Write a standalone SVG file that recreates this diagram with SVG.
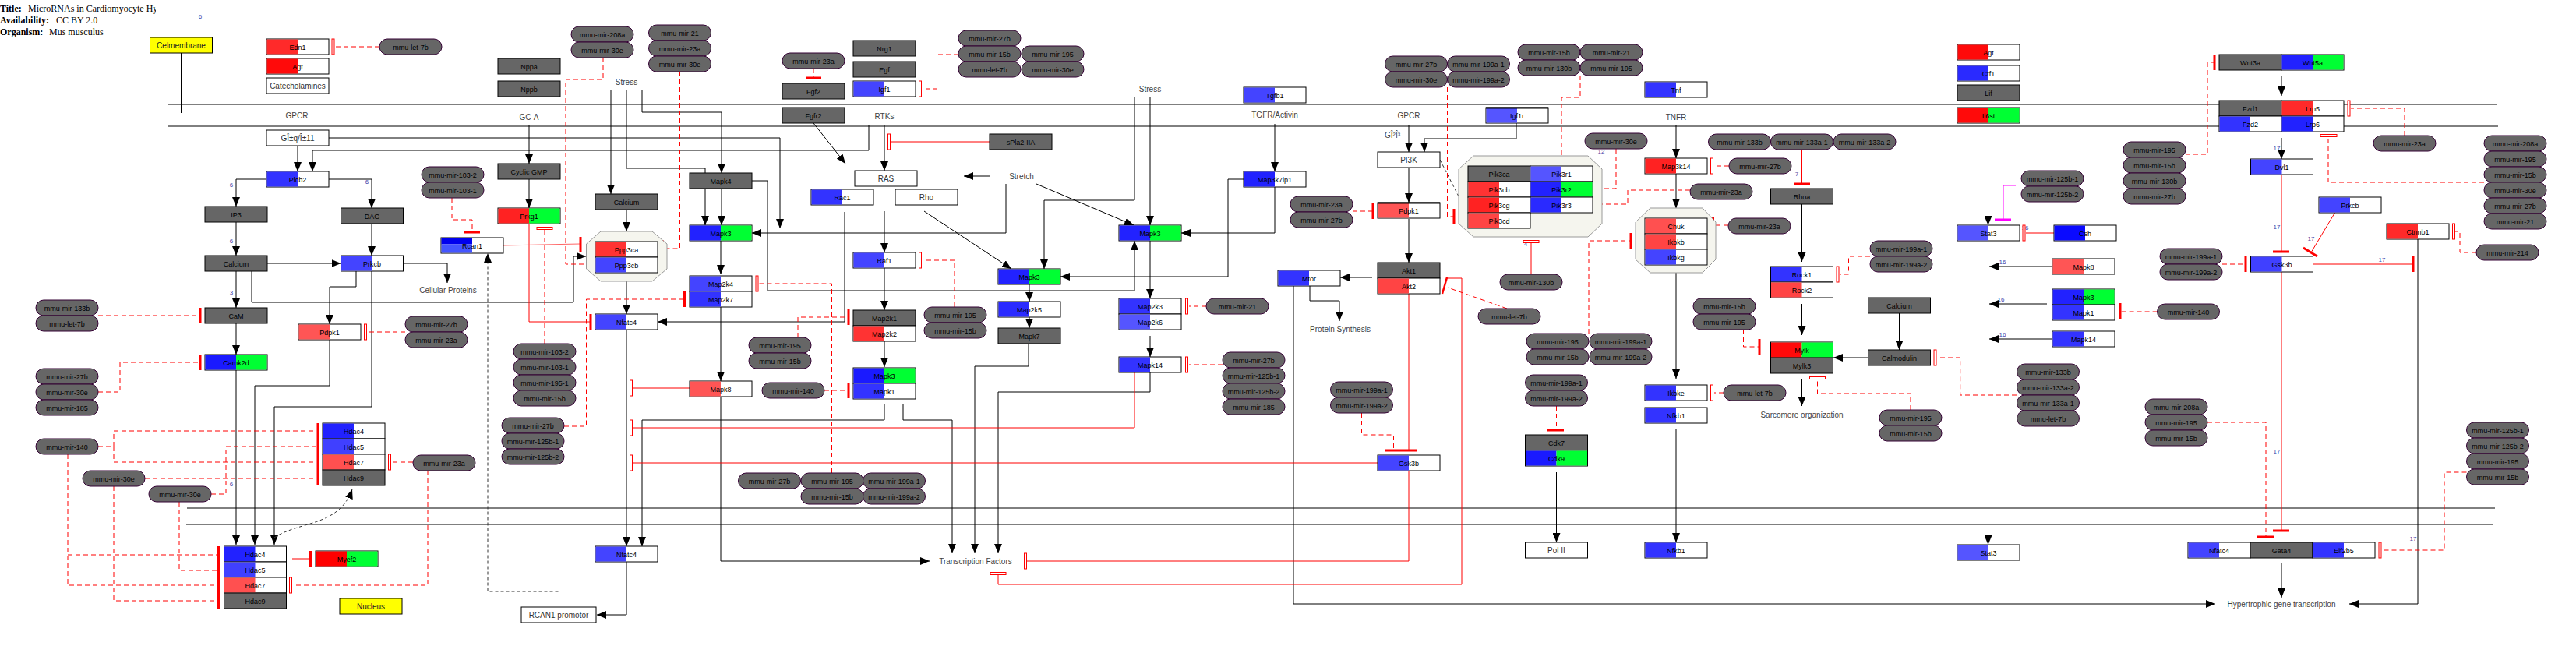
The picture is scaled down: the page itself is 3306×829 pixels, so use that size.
<svg xmlns="http://www.w3.org/2000/svg" width="3306" height="829" viewBox="0 0 3306 829">
<style>
.w{fill:#fff;stroke:#000}
.g{fill:#666;stroke:#000}
.p{fill:#666;stroke:#303;rx:10px;ry:10px}
.y{fill:#ff0;stroke:#000}
.cx{fill:#f5f5ee;stroke:#999}
.t{font:9px "Liberation Sans",Arial,sans-serif;text-anchor:middle;fill:#000}
.t2{font:10px "Liberation Sans",Arial,sans-serif;text-anchor:middle;fill:#333}
.l{font:10px "Liberation Sans",Arial,sans-serif;text-anchor:middle;fill:#444}
.n{font:8px "Liberation Sans",Arial,sans-serif;text-anchor:middle;fill:#44a}
.hd{font:12px "Liberation Serif","Times New Roman",serif;fill:#000}
.hd tspan.b{font-weight:bold}
.c{fill:none;stroke:#000}
.cd{fill:none;stroke:#333;stroke-dasharray:4,3}
.r{fill:none;stroke:#f00}
.rd{fill:none;stroke:#f00;stroke-dasharray:6,4}
.tb{fill:#f00}
.to{fill:#fff;stroke:#f00}
.mem{stroke:#000;fill:none}
</style>
<defs>
<marker id="a" viewBox="0 0 12 10" refX="12" refY="5" markerWidth="12" markerHeight="10" markerUnits="userSpaceOnUse" orient="auto"><path d="M0,0L12,5L0,10z" fill="#000"/></marker>
<clipPath id="tc"><rect x="0" y="0" width="200" height="50"/></clipPath>
</defs>
<rect width="3306" height="829" fill="#fff"/>

<g id="title" clip-path="url(#tc)">
<text class="hd" x="0" y="15"><tspan class="b">Title:</tspan><tspan x="36">MicroRNAs in Cardiomyocyte Hypertrophy</tspan></text>
<text class="hd" x="0" y="30"><tspan class="b">Availability:</tspan><tspan x="72">CC BY 2.0</tspan></text>
<text class="hd" x="0" y="45"><tspan class="b">Organism:</tspan><tspan x="63">Mus musculus</tspan></text>
</g>

<g id="membranes">
<path class="mem" d="M215,134H3205M215,162H3206M240,652H3202M239,673H3200"/>
</g>

<g id="labels">
<text class="l" x="381" y="151.5">GPCR</text>
<text class="l" x="679" y="153.5">GC-A</text>
<text class="l" x="804" y="108.5">Stress</text>
<text class="l" x="1135" y="152.5">RTKs</text>
<text class="l" x="1311" y="229.5">Stretch</text>
<text class="l" x="1476" y="117.5">Stress</text>
<text class="l" x="1636" y="150.5">TGFR/Activin</text>
<text class="l" x="1808" y="151.5">GPCR</text>
<text class="l" x="1787" y="176.5">GÎ²Î³</text>
<text class="l" x="2151" y="153.5">TNFR</text>
<text class="l" x="575" y="375.5">Cellular Proteins</text>
<text class="l" x="1720" y="425.5">Protein Synthesis</text>
<text class="l" x="2312.5" y="535.5">Sarcomere organization</text>
<text class="l" x="1252" y="723.5">Transcription Factors</text>
<text class="l" x="2928" y="778.5">Hypertrophic gene transcription</text>
<text class="n" x="257" y="23.5">6</text>
<text class="n" x="297" y="239.5">6</text>
<text class="n" x="471" y="235.5">6</text>
<text class="n" x="297" y="311.5">6</text>
<text class="n" x="297" y="377.5">3</text>
<text class="n" x="297" y="623.5">6</text>
<text class="n" x="2055" y="196.5">12</text>
<text class="n" x="1958" y="316">4</text>
<text class="n" x="2306" y="225.5">7</text>
<text class="n" x="2599" y="294.5">16</text>
<text class="n" x="2570" y="338.5">16</text>
<text class="n" x="2568" y="386.5">16</text>
<text class="n" x="2570" y="431.5">16</text>
<text class="n" x="2922" y="192.5">17</text>
<text class="n" x="2922" y="293.5">17</text>
<text class="n" x="2966" y="308.5">17</text>
<text class="n" x="3057" y="335.5">17</text>
<text class="n" x="2922" y="581.5">17</text>
<text class="n" x="3097" y="693.5">17</text>
</g>

<g id="connectors">
<path class="c" d="M232.5,68V145"/>
<path class="c" d="M382,187V220" marker-end="url(#a)"/>
<path class="c" d="M422,177H1001V293" marker-end="url(#a)"/>
<path class="c" d="M1115,160V193H401V220" marker-end="url(#a)"/>
<path class="c" d="M342,230H303V265" marker-end="url(#a)"/>
<path class="c" d="M422,230H477V267" marker-end="url(#a)"/>
<path class="c" d="M303,285V328" marker-end="url(#a)"/>
<path class="c" d="M477,287V328" marker-end="url(#a)"/>
<path class="c" d="M343,338H437.5" marker-end="url(#a)"/>
<path class="c" d="M517.5,338H574V363" marker-end="url(#a)"/>
<path class="c" d="M303,348V395" marker-end="url(#a)"/>
<path class="c" d="M323,348V388H736V329H752" marker-end="url(#a)"/>
<path class="c" d="M457,348V368H423V416" marker-end="url(#a)"/>
<path class="c" d="M477,348V522H352V699" marker-end="url(#a)"/>
<path class="c" d="M303,415V455" marker-end="url(#a)"/>
<path class="c" d="M303,475V699" marker-end="url(#a)"/>
<path class="c" d="M423,436V495H327V699" marker-end="url(#a)"/>
<path class="cd" d="M352,690C385,668 435,676 452,628" marker-end="url(#a)"/>
<path class="c" d="M679,160V210" marker-end="url(#a)"/>
<path class="c" d="M679,230V267" marker-end="url(#a)"/>
<path class="c" d="M784,116V249" marker-end="url(#a)"/>
<path class="c" d="M804,116V216H905V222"/>
<path class="c" d="M824,116V144H926V222" marker-end="url(#a)"/>
<path class="c" d="M804,269V297" marker-end="url(#a)"/>
<path class="c" d="M804,361V403" marker-end="url(#a)"/>
<path class="c" d="M905,242V289" marker-end="url(#a)"/>
<path class="c" d="M926,242V289" marker-end="url(#a)"/>
<path class="c" d="M965,232H985V373H1456V309" marker-end="url(#a)"/>
<path class="c" d="M925,309V352" marker-end="url(#a)"/>
<path class="c" d="M1291,236V299H965" marker-end="url(#a)"/>
<path class="c" d="M1084,272V413H844" marker-end="url(#a)"/>
<path class="c" d="M1044,158L1085,210" marker-end="url(#a)"/>
<path class="c" d="M1135,160V219" marker-end="url(#a)"/>
<path class="c" d="M1271,226H1237" marker-end="url(#a)"/>
<path class="c" d="M1330,236L1455,289" marker-end="url(#a)"/>
<path class="c" d="M1186,271L1298,345" marker-end="url(#a)"/>
<path class="c" d="M1135,271V324" marker-end="url(#a)"/>
<path class="c" d="M1135,344V398" marker-end="url(#a)"/>
<path class="c" d="M1456,124V257H1340V345" marker-end="url(#a)"/>
<path class="c" d="M1476,124V289" marker-end="url(#a)"/>
<path class="c" d="M1596,230H1576V355H1361" marker-end="url(#a)"/>
<path class="c" d="M1636,159V220" marker-end="url(#a)"/>
<path class="c" d="M1636,240V299H1516" marker-end="url(#a)"/>
<path class="c" d="M1476,309V383" marker-end="url(#a)"/>
<path class="c" d="M1321,365V387" marker-end="url(#a)"/>
<path class="c" d="M1321,407V421" marker-end="url(#a)"/>
<path class="c" d="M1135,438V471" marker-end="url(#a)"/>
<path class="c" d="M1135,519V539H824V701" marker-end="url(#a)"/>
<path class="c" d="M1159,519V539H1222V710" marker-end="url(#a)"/>
<path class="c" d="M1320,441V470H1251V710" marker-end="url(#a)"/>
<path class="c" d="M1476,431V458" marker-end="url(#a)"/>
<path class="c" d="M1476,478V503H1281V710" marker-end="url(#a)"/>
<path class="c" d="M925,394V489" marker-end="url(#a)"/>
<path class="c" d="M925,509V720H1193" marker-end="url(#a)"/>
<path class="c" d="M804,423V701" marker-end="url(#a)"/>
<path class="c" d="M804,721V789H766" marker-end="url(#a)"/>
<path class="cd" d="M717.5,779V759H626V325" marker-end="url(#a)"/>
<path class="c" d="M1808,160V195" marker-end="url(#a)"/>
<path class="c" d="M1946,158V178H1828V195" marker-end="url(#a)"/>
<path class="cd" d="M1848,205L1872,252"/>
<path class="c" d="M1808,215V260" marker-end="url(#a)"/>
<path class="c" d="M1808,281V337" marker-end="url(#a)"/>
<path class="c" d="M1761,356H1720" marker-end="url(#a)"/>
<path class="c" d="M1681,367V386H1719V412" marker-end="url(#a)"/>
<path class="c" d="M1660,367V775H2843" marker-end="url(#a)"/>
<path class="c" d="M2151,160V203" marker-end="url(#a)"/>
<path class="c" d="M2151,223V267" marker-end="url(#a)"/>
<path class="c" d="M2151,350V486" marker-end="url(#a)"/>
<path class="c" d="M2151,551V696" marker-end="url(#a)"/>
<path class="c" d="M1997.5,606V696" marker-end="url(#a)"/>
<path class="c" d="M2312.5,262V336" marker-end="url(#a)"/>
<path class="c" d="M2312.5,390V430" marker-end="url(#a)"/>
<path class="c" d="M2312.5,487V521" marker-end="url(#a)"/>
<path class="c" d="M2437.5,402V449" marker-end="url(#a)"/>
<path class="c" d="M2397.5,459H2353" marker-end="url(#a)"/>
<path class="c" d="M2551.5,158V289" marker-end="url(#a)"/>
<path class="c" d="M2551.5,309V699" marker-end="url(#a)"/>
<path class="c" d="M2634,342H2553" marker-end="url(#a)"/>
<path class="c" d="M2627,390H2553" marker-end="url(#a)"/>
<path class="c" d="M2634,435H2553" marker-end="url(#a)"/>
<path class="c" d="M2928,98V123" marker-end="url(#a)"/>
<path class="c" d="M2928,177V204" marker-end="url(#a)"/>
<path class="c" d="M3103,307V775H3015" marker-end="url(#a)"/>
<path class="c" d="M2928,723V767" marker-end="url(#a)"/>

<path class="r" d="M679,287V413H757"/><rect class="tb" x="756.5" y="403" width="3" height="20"/>
<path class="r" d="M646,315L744,313" style="stroke:#f66"/><rect class="tb" x="743.5" y="304" width="3" height="20"/>
<path class="rd" d="M1044,88V99"/><rect class="tb" x="1034" y="98.5" width="20" height="3"/>
<path class="r" d="M1270,182H1143"/><rect class="to" x="1139.5" y="172" width="3" height="20"/>
<path class="r" d="M885,498H812"/><rect class="to" x="808.5" y="488" width="3" height="20"/>
<path class="r" d="M1456,478V549H812"/><rect class="to" x="808.5" y="539" width="3" height="20"/>
<path class="r" d="M1768,594H812"/><rect class="to" x="808.5" y="584" width="3" height="20"/>
<path class="r" d="M1808,604V720H1318"/><rect class="to" x="1314.5" y="710" width="3" height="20"/>
<path class="r" d="M1857,357H1876V750H1281V738"/><rect class="to" x="1271" y="734.5" width="20" height="3"/>
<path class="r" d="M1808,377V577"/><rect class="tb" x="1777" y="576.5" width="41" height="3"/>
<path class="r" d="M375,717H397"/><rect class="tb" x="397" y="707" width="3" height="20"/>
<path class="r" d="M1965,352V312"/><rect class="to" x="1955" y="308.5" width="20" height="3"/>
<path class="r" d="M2312.5,192V235"/><rect class="tb" x="2302" y="234.5" width="21" height="3"/>
<path class="r" d="M2636,299H2600"/><rect class="to" x="2596" y="289" width="3" height="20"/>
<path class="r" d="M2928,224V322"/><rect class="tb" x="2917" y="321.5" width="21" height="3"/>
<path class="r" d="M2996.5,273L2966,324"/><path class="r" style="stroke-width:3" d="M2956,318L2974,329"/>
<path class="r" d="M2968,339H3096"/><rect class="tb" x="3095.5" y="329" width="3" height="20"/>
<path class="r" d="M2928,349V680"/><rect class="tb" x="2917" y="679.5" width="21" height="3"/>
<path d="M2587,238H2571V281" fill="none" stroke="#f0f"/><rect x="2560" y="280.5" width="21" height="3" fill="#f0f"/>

<path class="rd" d="M487,60H431"/><rect class="to" x="426" y="50" width="3" height="20"/>
<path class="rd" d="M774,74V102H726V339H757"/><rect class="tb" x="756.5" y="329" width="3" height="20"/>
<path class="rd" d="M872.5,92V319H852"/><rect class="to" x="848.5" y="309" width="3" height="20"/>
<path class="rd" d="M580,254V282H606V297"/><rect class="tb" x="595" y="296.5" width="21" height="3"/>
<path class="rd" d="M699,441V295"/><rect class="to" x="689" y="291.5" width="20" height="3"/>
<path class="rd" d="M724,547H752.5V384H877"/><rect class="tb" x="877" y="374" width="3" height="20"/>
<path class="rd" d="M1067.5,607V364H974"/><rect class="to" x="970" y="354" width="3" height="20"/>
<path class="rd" d="M1024,433V407H1088"/><rect class="tb" x="1087.5" y="397" width="3" height="20"/>
<path class="rd" d="M1058,501H1088"/><rect class="tb" x="1087.5" y="491" width="3" height="20"/>
<path class="rd" d="M1225,394V334H1184"/><rect class="to" x="1179.5" y="324" width="3" height="20"/>
<path class="rd" d="M1230,70H1202.5V114H1184"/><rect class="to" x="1179.5" y="104" width="3" height="20"/>
<path class="rd" d="M1548,393H1526"/><rect class="to" x="1521.5" y="383" width="3" height="20"/>
<path class="rd" d="M1569,468H1526"/><rect class="to" x="1521.5" y="458" width="3" height="20"/>
<path class="rd" d="M126,405H256"/><rect class="tb" x="255.5" y="395" width="3" height="20"/>
<path class="rd" d="M126,503H154V465H256"/><rect class="tb" x="255.5" y="455" width="3" height="20"/>
<path class="rd" d="M126,573H146V553H406M146,573V593H406"/>
<path class="rd" d="M87,583V751H279M87,712H279"/>
<path class="rd" d="M186,614H406M146,624V771H279"/>
<path class="rd" d="M271,634H290V573H406M230,644V732H279"/>
<rect class="tb" x="406.5" y="543" width="3" height="80"/>
<rect class="tb" x="279" y="701" width="3" height="80"/>
<path class="rd" d="M530,593H503M549,604V751H376"/><rect class="to" x="498.5" y="583" width="3" height="20"/><rect class="to" x="371.5" y="741" width="3" height="20"/>
<path class="rd" d="M520,426H472"/><rect class="to" x="467.5" y="416" width="3" height="20"/>
<path class="rd" d="M1857.5,112V278H1865"/><rect class="tb" x="1864.5" y="268" width="3" height="20"/>
<path class="rd" d="M2028,97V125H2004V205"/><rect class="tb" x="1993" y="204.5" width="21" height="3"/>
<path class="rd" d="M2074,191V242H2053M2169,244H2089V262H2053"/><rect class="to" x="2048.5" y="231" width="3" height="41"/>
<path class="rd" d="M1736,271H1761"/><rect class="tb" x="1760.5" y="261" width="3" height="20"/>
<path class="rd" d="M1934,396L1858,369"/><path class="r" style="stroke-width:2.5" d="M1851,377L1857,356"/>
<path class="rd" d="M2219,213H2200"/><rect class="to" x="2195.5" y="203" width="3" height="20"/>
<path class="rd" d="M2039,428V309H2092"/><rect class="tb" x="2091.5" y="299" width="3" height="20"/>
<path class="rd" d="M2218,289H2200"/><rect class="tb" x="2197" y="279" width="3" height="20"/>
<path class="rd" d="M2400,329H2372.5V352H2361"/><rect class="to" x="2357" y="342" width="3" height="20"/>
<path class="rd" d="M2237.5,423V445H2257"/><rect class="tb" x="2256.5" y="435" width="3" height="20"/>
<path class="rd" d="M2452,526V505H2332.5V487"/><rect class="to" x="2322.5" y="483.5" width="20" height="3"/>
<path class="rd" d="M2588,507H2515.7V459H2486"/><rect class="to" x="2482" y="449" width="3" height="20"/>
<path class="rd" d="M2212,504H2200"/><rect class="to" x="2195.5" y="494" width="3" height="20"/>
<path class="rd" d="M1997.5,521V551"/><rect class="tb" x="1986" y="550.5" width="21" height="3"/>
<path class="rd" d="M1747.5,530V558H1788.5V577"/>
<path class="rd" d="M2805,198H2833V80H2841"/><rect class="tb" x="2840.5" y="70" width="3" height="20"/>
<path class="rd" d="M3086,174V139H3017"/><rect class="to" x="3013" y="129" width="3" height="20"/>
<path class="rd" d="M3188,234H2988V178"/><rect class="to" x="2978" y="172.5" width="21" height="3"/>
<path class="rd" d="M3178,324H3157V297H3151"/><rect class="to" x="3147.5" y="287" width="3" height="20"/>
<path class="rd" d="M2852,339H2881"/><rect class="tb" x="2880.5" y="329" width="3" height="20"/>
<path class="rd" d="M2768.6,400H2722"/><rect class="tb" x="2719.5" y="389" width="3" height="20"/>
<path class="rd" d="M2833,542H2908V688"/><rect class="tb" x="2897" y="687.5" width="21" height="3"/>
<path class="rd" d="M3165.5,606H3137V706H3057"/><rect class="to" x="3053" y="696" width="3" height="20"/>
</g>

<g id="complexes">
<polygon id="cx-Ppp3" class="cx" points="771,297 837,297 856,313 856,345 837,361 771,361 752.5,345 752.5,313"/>
<polygon id="cx-Pik3" class="cx" points="1891,200 2038,200 2056,217 2056,287 2038,304 1891,304 1872,287 1872,217"/>
<polygon id="cx-IKK" class="cx" points="2118,267 2185,267 2202,285 2202,333 2185,350 2118,350 2099,333 2099,285"/>
</g>

<g id="n-Celmembrane"><rect class="y" x="192.5" y="48" width="80" height="20"/><text class="t2" x="232.5" y="62" style="fill:#222">Celmembrane</text></g>
<g id="n-Nucleus"><rect class="y" x="436" y="768" width="80" height="20"/><text class="t2" x="476" y="782" style="fill:#222">Nucleus</text></g>
<g id="n-Edn1"><rect class="w" x="342" y="50" width="80" height="20"/><rect x="342.5" y="50.5" width="39.5" height="19" fill="#FF2A2A"/><text class="t" x="382" y="63.5">Edn1</text></g>
<g id="n-Agt"><rect class="w" x="342" y="75" width="80" height="20"/><rect x="342.5" y="75.5" width="39.5" height="19" fill="#FF0A0A"/><text class="t" x="382" y="88.5">Agt</text></g>
<g id="n-Catecholamines"><rect class="w" x="342" y="100" width="80" height="20"/><text class="t2" x="382" y="114">Catecholamines</text></g>
<g id="n-Gaq"><rect class="w" x="342" y="167" width="80" height="20"/><text class="t2" x="382" y="181">GÎ±q/Î±11</text></g>
<g id="n-Plcb2"><rect class="w" x="342" y="220" width="80" height="20"/><rect x="342.5" y="220.5" width="39.5" height="19" fill="#3333FF"/><text class="t" x="382" y="233.5">Plcb2</text></g>
<g id="n-IP3"><rect class="g" x="263" y="265" width="80" height="20"/><text class="t" x="303" y="278.5">IP3</text></g>
<g id="n-DAG"><rect class="g" x="437.5" y="267" width="80" height="20"/><text class="t" x="477.5" y="280.5">DAG</text></g>
<g id="n-Calcium1"><rect class="g" x="263" y="328" width="80" height="20"/><text class="t" x="303" y="341.5">Calcium</text></g>
<g id="n-Prkcb1"><rect class="w" x="437.5" y="328" width="80" height="20"/><rect x="438" y="328.5" width="39.5" height="19" fill="#4444FF"/><text class="t" x="477.5" y="341.5">Prkcb</text></g>
<g id="n-CaM"><rect class="g" x="263" y="395" width="80" height="20"/><text class="t" x="303" y="408.5">CaM</text></g>
<g id="n-Camk2d"><rect class="w" x="263" y="455" width="80" height="20"/><rect x="263.5" y="455.5" width="39.5" height="19" fill="#1A1AFF"/><rect x="303" y="455.5" width="39.5" height="19" fill="#00FF33"/><text class="t" x="303" y="468.5">Camk2d</text></g>
<g id="n-Pdpk1a"><rect class="w" x="383" y="416" width="80" height="20"/><rect x="383.5" y="416.5" width="39.5" height="19" fill="#FF5555"/><text class="t" x="423" y="429.5">Pdpk1</text></g>
<g id="n-HdacUpper">
<rect class="w" x="414" y="543" width="80" height="20"/><rect x="414.5" y="543.5" width="39.5" height="19" fill="#2222FF"/><text class="t" x="454" y="556.5">Hdac4</text>
<rect class="w" x="414" y="563" width="80" height="20"/><rect x="414.5" y="563.5" width="39.5" height="19" fill="#4040FF"/><text class="t" x="454" y="576.5">Hdac5</text>
<rect class="w" x="414" y="583" width="80" height="20"/><rect x="414.5" y="583.5" width="39.5" height="19" fill="#FF5050"/><text class="t" x="454" y="596.5">Hdac7</text>
<rect class="g" x="414" y="603" width="80" height="20"/><text class="t" x="454" y="616.5">Hdac9</text>
</g>
<g id="n-HdacLower">
<rect class="w" x="287.5" y="701" width="80" height="20"/><rect x="288" y="701.5" width="39.5" height="19" fill="#2222FF"/><text class="t" x="327.5" y="714.5">Hdac4</text>
<rect class="w" x="287.5" y="721" width="80" height="20"/><rect x="288" y="721.5" width="39.5" height="19" fill="#4040FF"/><text class="t" x="327.5" y="734.5">Hdac5</text>
<rect class="w" x="287.5" y="741" width="80" height="20"/><rect x="288" y="741.5" width="39.5" height="19" fill="#FF5050"/><text class="t" x="327.5" y="754.5">Hdac7</text>
<rect class="g" x="287.5" y="761" width="80" height="20"/><text class="t" x="327.5" y="774.5">Hdac9</text>
</g>
<g id="n-Myef2"><rect class="w" x="405" y="707" width="80" height="20"/><rect x="405.5" y="707.5" width="39.5" height="19" fill="#FF0000"/><rect x="445" y="707.5" width="39.5" height="19" fill="#00FF33"/><text class="t" x="445" y="720.5">Myef2</text></g>
<g id="n-Nppa"><rect class="g" x="639" y="75" width="80" height="20"/><text class="t" x="679" y="88.5">Nppa</text></g>
<g id="n-Nppb"><rect class="g" x="639" y="104" width="80" height="20"/><text class="t" x="679" y="117.5">Nppb</text></g>
<g id="n-CyclicGMP"><rect class="g" x="639" y="210" width="80" height="20"/><text class="t" x="679" y="223.5">Cyclic GMP</text></g>
<g id="n-Prkg1"><rect class="w" x="639" y="267" width="80" height="20"/><rect x="639.5" y="267.5" width="39.5" height="19" fill="#FF2222"/><rect x="679" y="267.5" width="39.5" height="19" fill="#00FF33"/><text class="t" x="679" y="280.5">Prkg1</text></g>
<g id="n-Rcan1"><rect class="w" x="566" y="305" width="80" height="20"/><rect x="566.5" y="305.5" width="39.5" height="8" fill="#0000EE"/><rect x="566.5" y="313.5" width="39.5" height="11" fill="#4455FF"/><text class="t" x="606" y="318.5">Rcan1</text></g>
<g id="n-Calcium2"><rect class="g" x="764" y="249" width="80" height="20"/><text class="t" x="804" y="262.5">Calcium</text></g>
<g id="n-Ppp3">
<rect class="w" x="764" y="310" width="80" height="20"/><rect x="764.5" y="310.5" width="39.5" height="19" fill="#FF3333"/><text class="t" x="804" y="323.5">Ppp3ca</text>
<rect class="w" x="764" y="330" width="80" height="20"/><rect x="764.5" y="330.5" width="39.5" height="19" fill="#4444FF"/><text class="t" x="804" y="343.5">Ppp3cb</text>
</g>
<g id="n-Nfatc4a"><rect class="w" x="764" y="403" width="80" height="20"/><rect x="764.5" y="403.5" width="39.5" height="19" fill="#4444FF"/><text class="t" x="804" y="416.5">Nfatc4</text></g>
<g id="n-Nfatc4b"><rect class="w" x="764" y="701" width="80" height="20"/><rect x="764.5" y="701.5" width="39.5" height="19" fill="#4444FF"/><text class="t" x="804" y="714.5">Nfatc4</text></g>
<g id="n-RCAN1promotor"><rect class="w" x="669" y="779" width="96" height="20"/><text class="t2" x="717" y="793">RCAN1 promotor</text></g>
<g id="n-Mapk4"><rect class="g" x="885" y="222" width="80" height="20"/><text class="t" x="925" y="235.5">Mapk4</text></g>
<g id="n-Mapk3a"><rect class="w" x="885" y="289" width="80" height="20"/><rect x="885.5" y="289.5" width="39.5" height="19" fill="#2222FF"/><rect x="925" y="289.5" width="39.5" height="19" fill="#00FF33"/><text class="t" x="925" y="302.5">Mapk3</text></g>
<g id="n-Map2k4-7">
<rect class="w" x="885" y="354" width="80" height="20"/><rect x="885.5" y="354.5" width="39.5" height="19" fill="#4444FF"/><text class="t" x="925" y="367.5">Map2k4</text>
<rect class="w" x="885" y="374" width="80" height="20"/><rect x="885.5" y="374.5" width="39.5" height="19" fill="#3333FF"/><text class="t" x="925" y="387.5">Map2k7</text>
</g>
<g id="n-Mapk8a"><rect class="w" x="885" y="489" width="80" height="20"/><rect x="885.5" y="489.5" width="39.5" height="19" fill="#FF5555"/><text class="t" x="925" y="502.5">Mapk8</text></g>
<g id="n-Fgf2"><rect class="g" x="1004" y="107" width="80" height="20"/><text class="t" x="1044" y="120.5">Fgf2</text></g>
<g id="n-Fgfr2"><rect class="g" x="1004" y="138" width="80" height="20"/><text class="t" x="1044" y="151.5">Fgfr2</text></g>
<g id="n-Rac1"><rect class="w" x="1041" y="243" width="80" height="20"/><rect x="1041.5" y="243.5" width="39.5" height="19" fill="#3333FF"/><text class="t" x="1081" y="256.5">Rac1</text></g>
<g id="n-Nrg1"><rect class="g" x="1095" y="52" width="80" height="20"/><text class="t" x="1135" y="65.5">Nrg1</text></g>
<g id="n-Egf"><rect class="g" x="1095" y="79" width="80" height="20"/><text class="t" x="1135" y="92.5">Egf</text></g>
<g id="n-Igf1"><rect class="w" x="1095" y="104" width="80" height="20"/><rect x="1095.5" y="104.5" width="39.5" height="19" fill="#4444FF"/><text class="t" x="1135" y="117.5">Igf1</text></g>
<g id="n-RAS"><rect class="w" x="1097" y="219" width="80" height="20"/><text class="t2" x="1137" y="233">RAS</text></g>
<g id="n-Rho"><rect class="w" x="1149" y="243" width="80" height="20"/><text class="t2" x="1189" y="257">Rho</text></g>
<g id="n-Raf1"><rect class="w" x="1095" y="324" width="80" height="20"/><rect x="1095.5" y="324.5" width="39.5" height="19" fill="#4444FF"/><text class="t" x="1135" y="337.5">Raf1</text></g>
<g id="n-Map2k1-2">
<rect class="g" x="1095" y="398" width="80" height="20"/><text class="t" x="1135" y="411.5">Map2k1</text>
<rect class="w" x="1095" y="418" width="80" height="20"/><rect x="1095.5" y="418.5" width="39.5" height="19" fill="#FF3333"/><text class="t" x="1135" y="431.5">Map2k2</text>
</g>
<g id="n-Mapk3-1d">
<rect class="w" x="1095" y="472" width="80" height="20"/><rect x="1095.5" y="472.5" width="39.5" height="19" fill="#1A1AFF"/><rect x="1135" y="472.5" width="39.5" height="19" fill="#00FF33"/><text class="t" x="1135" y="485.5">Mapk3</text>
<rect class="w" x="1095" y="492" width="80" height="20"/><rect x="1095.5" y="492.5" width="39.5" height="19" fill="#3333FF"/><text class="t" x="1135" y="505.5">Mapk1</text>
</g>
<g id="n-sPla2"><rect class="g" x="1270" y="172" width="80" height="20"/><text class="t" x="1310" y="185.5">sPla2-IIA</text></g>
<g id="n-Mapk3b"><rect class="w" x="1281" y="345" width="80" height="20"/><rect x="1281.5" y="345.5" width="39.5" height="19" fill="#2222FF"/><rect x="1321" y="345.5" width="39.5" height="19" fill="#00FF33"/><text class="t" x="1321" y="358.5">Mapk3</text></g>
<g id="n-Map2k5"><rect class="w" x="1281" y="387" width="80" height="20"/><rect x="1281.5" y="387.5" width="39.5" height="19" fill="#2A2AFF"/><text class="t" x="1321" y="400.5">Map2k5</text></g>
<g id="n-Mapk7"><rect class="g" x="1281" y="421" width="80" height="20"/><text class="t" x="1321" y="434.5">Mapk7</text></g>
<g id="n-Mapk3c"><rect class="w" x="1436" y="289" width="80" height="20"/><rect x="1436.5" y="289.5" width="39.5" height="19" fill="#2222FF"/><rect x="1476" y="289.5" width="39.5" height="19" fill="#00FF33"/><text class="t" x="1476" y="302.5">Mapk3</text></g>
<g id="n-Map2k3-6">
<rect class="w" x="1436" y="383" width="80" height="20"/><rect x="1436.5" y="383.5" width="39.5" height="19" fill="#3333FF"/><text class="t" x="1476" y="396.5">Map2k3</text>
<rect class="w" x="1436" y="403" width="80" height="20"/><rect x="1436.5" y="403.5" width="39.5" height="19" fill="#5555FF"/><text class="t" x="1476" y="416.5">Map2k6</text>
</g>
<g id="n-Mapk14a"><rect class="w" x="1436" y="458" width="80" height="20"/><rect x="1436.5" y="458.5" width="39.5" height="19" fill="#3333FF"/><text class="t" x="1476" y="471.5">Mapk14</text></g>
<g id="n-Tgfb1"><rect class="w" x="1596" y="112" width="80" height="20"/><rect x="1596.5" y="112.5" width="39.5" height="19" fill="#4444FF"/><text class="t" x="1636" y="125.5">Tgfb1</text></g>
<g id="n-Map3k7ip1"><rect class="w" x="1596" y="220" width="80" height="20"/><rect x="1596.5" y="220.5" width="39.5" height="19" fill="#2222FF"/><text class="t" x="1636" y="233.5">Map3k7ip1</text></g>
<g id="n-Mtor"><rect class="w" x="1640" y="347" width="80" height="20"/><rect x="1640.5" y="347.5" width="39.5" height="19" fill="#3333FF"/><text class="t" x="1680" y="360.5">Mtor</text></g>
<g id="n-PI3K"><rect class="w" x="1768" y="195" width="80" height="20"/><text class="t2" x="1808" y="209">PI3K</text></g>
<g id="n-Pdpk1b"><rect class="w" x="1768" y="260" width="80" height="20"/><rect x="1768.5" y="260.5" width="39.5" height="19" fill="#FF5555"/><path d="M1768,260.5H1848" stroke="#000" stroke-width="2"/><text class="t" x="1808" y="273.5">Pdpk1</text></g>
<g id="n-Akt">
<rect class="g" x="1768" y="337" width="80" height="20"/><text class="t" x="1808" y="350.5">Akt1</text>
<rect class="w" x="1768" y="357" width="80" height="20"/><rect x="1768.5" y="357.5" width="39.5" height="19" fill="#FF4444"/><text class="t" x="1808" y="370.5">Akt2</text>
</g>
<g id="n-Gsk3b-b"><rect class="w" x="1768" y="584" width="80" height="20"/><rect x="1768.5" y="584.5" width="39.5" height="19" fill="#4444FF"/><text class="t" x="1808" y="597.5">Gsk3b</text></g>
<g id="n-Igf1r"><rect class="w" x="1907" y="138" width="80" height="20"/><rect x="1907.5" y="138.5" width="39.5" height="19" fill="#5555FF"/><path d="M1907,138.5H1987" stroke="#000" stroke-width="2"/><text class="t" x="1947" y="151.5">Igf1r</text></g>
<g id="n-Pik3">
<rect class="g" x="1884" y="213" width="80" height="20"/><text class="t" x="1924" y="226.5">Pik3ca</text>
<rect class="w" x="1884" y="233" width="80" height="20"/><rect x="1884.5" y="233.5" width="39.5" height="19" fill="#FF3333"/><text class="t" x="1924" y="246.5">Pik3cb</text>
<rect class="w" x="1884" y="253" width="80" height="20"/><rect x="1884.5" y="253.5" width="39.5" height="19" fill="#FF2222"/><text class="t" x="1924" y="266.5">Pik3cg</text>
<rect class="w" x="1884" y="273" width="80" height="20"/><rect x="1884.5" y="273.5" width="39.5" height="19" fill="#FF4444"/><text class="t" x="1924" y="286.5">Pik3cd</text>
<rect class="w" x="1964" y="213" width="80" height="20"/><rect x="1964.5" y="213.5" width="39.5" height="19" fill="#5555FF"/><text class="t" x="2004" y="226.5">Pik3r1</text>
<rect class="w" x="1964" y="233" width="80" height="20"/><rect x="1964.5" y="233.5" width="39.5" height="19" fill="#2222FF"/><rect x="2004" y="233.5" width="39.5" height="19" fill="#00FF33"/><text class="t" x="2004" y="246.5">Pik3r2</text>
<rect class="w" x="1964" y="253" width="80" height="20"/><rect x="1964.5" y="253.5" width="39.5" height="19" fill="#2A2AFF"/><text class="t" x="2004" y="266.5">Pik3r3</text>
</g>
<g id="n-Cdk7-9">
<rect class="g" x="1957.5" y="558" width="80" height="20"/><text class="t" x="1997.5" y="571.5">Cdk7</text>
<rect class="w" x="1957.5" y="578" width="80" height="20"/><rect x="1958" y="578.5" width="39.5" height="19" fill="#1A1AFF"/><rect x="1997.5" y="578.5" width="39.5" height="19" fill="#00FF33"/><text class="t" x="1997.5" y="591.5">Cdk9</text>
</g>
<g id="n-PolII"><rect class="w" x="1957.5" y="696" width="80" height="20"/><text class="t2" x="1997.5" y="710">Pol II</text></g>
<g id="n-Tnf"><rect class="w" x="2111" y="105" width="80" height="20"/><rect x="2111.5" y="105.5" width="39.5" height="19" fill="#3333FF"/><text class="t" x="2151" y="118.5">Tnf</text></g>
<g id="n-Map3k14"><rect class="w" x="2111" y="203" width="80" height="20"/><rect x="2111.5" y="203.5" width="39.5" height="19" fill="#FF2222"/><text class="t" x="2151" y="216.5">Map3k14</text></g>
<g id="n-IKK">
<rect class="w" x="2111" y="280" width="80" height="20"/><rect x="2111.5" y="280.5" width="39.5" height="19" fill="#FF5050"/><text class="t" x="2151" y="293.5">Chuk</text>
<rect class="w" x="2111" y="300" width="80" height="20"/><rect x="2111.5" y="300.5" width="39.5" height="19" fill="#FF4444"/><text class="t" x="2151" y="313.5">Ikbkb</text>
<rect class="w" x="2111" y="320" width="80" height="20"/><rect x="2111.5" y="320.5" width="39.5" height="19" fill="#4444FF"/><text class="t" x="2151" y="333.5">Ikbkg</text>
</g>
<g id="n-Ikbke"><rect class="w" x="2111" y="494" width="80" height="20"/><rect x="2111.5" y="494.5" width="39.5" height="19" fill="#3333FF"/><text class="t" x="2151" y="507.5">Ikbke</text></g>
<g id="n-Nfkb1a"><rect class="w" x="2111" y="523" width="80" height="20"/><rect x="2111.5" y="523.5" width="39.5" height="19" fill="#3333FF"/><text class="t" x="2151" y="536.5">Nfkb1</text></g>
<g id="n-Nfkb1b"><rect class="w" x="2111" y="696" width="80" height="20"/><rect x="2111.5" y="696.5" width="39.5" height="19" fill="#3333FF"/><text class="t" x="2151" y="709.5">Nfkb1</text></g>
<g id="n-Rhoa"><rect class="g" x="2272.5" y="242" width="80" height="20"/><text class="t" x="2312.5" y="255.5">Rhoa</text></g>
<g id="n-Rock">
<rect class="w" x="2272.5" y="342" width="80" height="20"/><rect x="2273" y="342.5" width="39.5" height="19" fill="#3333FF"/><text class="t" x="2312.5" y="355.5">Rock1</text>
<rect class="w" x="2272.5" y="362" width="80" height="20"/><rect x="2273" y="362.5" width="39.5" height="19" fill="#FF4444"/><text class="t" x="2312.5" y="375.5">Rock2</text>
</g>
<g id="n-Mylk">
<rect class="w" x="2272.5" y="439" width="80" height="20"/><rect x="2273" y="439.5" width="39.5" height="19" fill="#FF0A0A"/><rect x="2312.5" y="439.5" width="39.5" height="19" fill="#00FF33"/><text class="t" x="2312.5" y="452.5">Mylk</text>
<rect class="g" x="2272.5" y="459" width="80" height="20"/><text class="t" x="2312.5" y="472.5">Mylk3</text>
</g>
<g id="n-Calcium3"><rect class="g" x="2397.5" y="382" width="80" height="20"/><text class="t" x="2437.5" y="395.5">Calcium</text></g>
<g id="n-Calmodulin"><rect class="g" x="2397.5" y="449" width="80" height="20"/><text class="t" x="2437.5" y="462.5">Calmodulin</text></g>
<g id="n-Agt2"><rect class="w" x="2512" y="57" width="80" height="20"/><rect x="2512.5" y="57.5" width="39.5" height="19" fill="#FF0A0A"/><text class="t" x="2552" y="70.5">Agt</text></g>
<g id="n-Ctf1"><rect class="w" x="2512" y="84" width="80" height="20"/><rect x="2512.5" y="84.5" width="39.5" height="19" fill="#2A2AFF"/><text class="t" x="2552" y="97.5">Ctf1</text></g>
<g id="n-Lif"><rect class="g" x="2512" y="109" width="80" height="20"/><text class="t" x="2552" y="122.5">Lif</text></g>
<g id="n-Il6st"><rect class="w" x="2512" y="138" width="80" height="20"/><rect x="2512.5" y="138.5" width="39.5" height="19" fill="#FF0A0A"/><rect x="2552" y="138.5" width="39.5" height="19" fill="#00FF33"/><text class="t" x="2552" y="151.5">Il6st</text></g>
<g id="n-Stat3a"><rect class="w" x="2512" y="289" width="80" height="20"/><rect x="2512.5" y="289.5" width="39.5" height="19" fill="#5555FF"/><text class="t" x="2552" y="302.5">Stat3</text></g>
<g id="n-Stat3b"><rect class="w" x="2512" y="699" width="80" height="20"/><rect x="2512.5" y="699.5" width="39.5" height="19" fill="#5555FF"/><text class="t" x="2552" y="712.5">Stat3</text></g>
<g id="n-Csh"><rect class="w" x="2636" y="289" width="80" height="20"/><rect x="2636.5" y="289.5" width="39.5" height="19" fill="#0A0AFF"/><text class="t" x="2676" y="302.5">Csh</text></g>
<g id="n-Mapk8b"><rect class="w" x="2634" y="332" width="80" height="20"/><rect x="2634.5" y="332.5" width="39.5" height="19" fill="#FF5555"/><text class="t" x="2674" y="345.5">Mapk8</text></g>
<g id="n-Mapk3-1e">
<rect class="w" x="2634" y="371" width="80" height="20"/><rect x="2634.5" y="371.5" width="39.5" height="19" fill="#2222FF"/><rect x="2674" y="371.5" width="39.5" height="19" fill="#00FF33"/><text class="t" x="2674" y="384.5">Mapk3</text>
<rect class="w" x="2634" y="391" width="80" height="20"/><rect x="2634.5" y="391.5" width="39.5" height="19" fill="#3333FF"/><text class="t" x="2674" y="404.5">Mapk1</text>
</g>
<g id="n-Mapk14b"><rect class="w" x="2634" y="425" width="80" height="20"/><rect x="2634.5" y="425.5" width="39.5" height="19" fill="#3333FF"/><text class="t" x="2674" y="438.5">Mapk14</text></g>
<g id="n-Wnt">
<rect class="g" x="2848" y="70" width="80" height="20"/><text class="t" x="2888" y="83.5">Wnt3a</text>
<rect class="w" x="2928" y="70" width="80" height="20"/><rect x="2928.5" y="70.5" width="39.5" height="19" fill="#2222FF"/><rect x="2968" y="70.5" width="39.5" height="19" fill="#00FF33"/><text class="t" x="2968" y="83.5">Wnt5a</text>
</g>
<g id="n-FzdLrp">
<rect class="g" x="2848" y="129" width="80" height="20"/><text class="t" x="2888" y="142.5">Fzd1</text>
<rect class="w" x="2928" y="129" width="80" height="20"/><rect x="2928.5" y="129.5" width="39.5" height="19" fill="#FF2A2A"/><text class="t" x="2968" y="142.5">Lrp5</text>
<rect class="w" x="2848" y="149" width="80" height="20"/><rect x="2848.5" y="149.5" width="39.5" height="19" fill="#3333FF"/><text class="t" x="2888" y="162.5">Fzd2</text>
<rect class="w" x="2928" y="149" width="80" height="20"/><rect x="2928.5" y="149.5" width="39.5" height="19" fill="#2222FF"/><text class="t" x="2968" y="162.5">Lrp6</text>
</g>
<g id="n-Dvl1"><rect class="w" x="2888.5" y="204" width="80" height="20"/><rect x="2889" y="204.5" width="39.5" height="19" fill="#4444FF"/><text class="t" x="2928.5" y="217.5">Dvl1</text></g>
<g id="n-Prkcb2"><rect class="w" x="2976" y="253" width="80" height="20"/><rect x="2976.5" y="253.5" width="39.5" height="19" fill="#4444FF"/><text class="t" x="3016" y="266.5">Prkcb</text></g>
<g id="n-Ctnnb1"><rect class="w" x="3063" y="287" width="80" height="20"/><rect x="3063.5" y="287.5" width="39.5" height="19" fill="#FF2A2A"/><text class="t" x="3103" y="300.5">Ctnnb1</text></g>
<g id="n-Gsk3b-a"><rect class="w" x="2888.5" y="329" width="80" height="20"/><rect x="2889" y="329.5" width="39.5" height="19" fill="#4040FF"/><text class="t" x="2928.5" y="342.5">Gsk3b</text></g>
<g id="n-TFgroup">
<rect class="w" x="2808" y="696" width="80" height="20"/><rect x="2808.5" y="696.5" width="39.5" height="19" fill="#4444FF"/><text class="t" x="2848" y="709.5">Nfatc4</text>
<rect class="g" x="2888" y="696" width="80" height="20"/><text class="t" x="2928" y="709.5">Gata4</text>
<rect class="w" x="2968" y="696" width="80" height="20"/><rect x="2968.5" y="696.5" width="39.5" height="19" fill="#3333FF"/><text class="t" x="3008" y="709.5">Eif2b5</text>
</g>

<g id="mirnas">
<g id="m1"><rect class="p" x="487" y="50" width="80" height="20"/><text class="t" x="527" y="63.5">mmu-let-7b</text></g>
<g id="m2"><rect class="p" x="733" y="34" width="80" height="20"/><text class="t" x="773" y="47.5">mmu-mir-208a</text><rect class="p" x="733" y="54" width="80" height="20"/><text class="t" x="773" y="67.5">mmu-mir-30e</text></g>
<g id="m3"><rect class="p" x="832.5" y="32" width="80" height="20"/><text class="t" x="872.5" y="45.5">mmu-mir-21</text><rect class="p" x="832.5" y="52" width="80" height="20"/><text class="t" x="872.5" y="65.5">mmu-mir-23a</text><rect class="p" x="832.5" y="72" width="80" height="20"/><text class="t" x="872.5" y="85.5">mmu-mir-30e</text></g>
<g id="m4"><rect class="p" x="1004" y="68" width="80" height="20"/><text class="t" x="1044" y="81.5">mmu-mir-23a</text></g>
<g id="m5"><rect class="p" x="1230" y="39" width="80" height="20"/><text class="t" x="1270" y="52.5">mmu-mir-27b</text><rect class="p" x="1230" y="59" width="80" height="20"/><text class="t" x="1270" y="72.5">mmu-mir-15b</text><rect class="p" x="1230" y="79" width="80" height="20"/><text class="t" x="1270" y="92.5">mmu-let-7b</text><rect class="p" x="1311" y="59" width="80" height="20"/><text class="t" x="1351" y="72.5">mmu-mir-195</text><rect class="p" x="1311" y="79" width="80" height="20"/><text class="t" x="1351" y="92.5">mmu-mir-30e</text></g>
<g id="m6"><rect class="p" x="541" y="214" width="80" height="20"/><text class="t" x="581" y="227.5">mmu-mir-103-2</text><rect class="p" x="541" y="234" width="80" height="20"/><text class="t" x="581" y="247.5">mmu-mir-103-1</text></g>
<g id="m7"><rect class="p" x="46" y="385" width="80" height="20"/><text class="t" x="86" y="398.5">mmu-mir-133b</text><rect class="p" x="46" y="405" width="80" height="20"/><text class="t" x="86" y="418.5">mmu-let-7b</text></g>
<g id="m8"><rect class="p" x="520" y="406" width="80" height="20"/><text class="t" x="560" y="419.5">mmu-mir-27b</text><rect class="p" x="520" y="426" width="80" height="20"/><text class="t" x="560" y="439.5">mmu-mir-23a</text></g>
<g id="m9"><rect class="p" x="46" y="473" width="80" height="20"/><text class="t" x="86" y="486.5">mmu-mir-27b</text><rect class="p" x="46" y="493" width="80" height="20"/><text class="t" x="86" y="506.5">mmu-mir-30e</text><rect class="p" x="46" y="513" width="80" height="20"/><text class="t" x="86" y="526.5">mmu-mir-185</text></g>
<g id="m10"><rect class="p" x="46" y="563" width="80" height="20"/><text class="t" x="86" y="576.5">mmu-mir-140</text></g>
<g id="m11"><rect class="p" x="106" y="604" width="80" height="20"/><text class="t" x="146" y="617.5">mmu-mir-30e</text></g>
<g id="m12"><rect class="p" x="191" y="624" width="80" height="20"/><text class="t" x="231" y="637.5">mmu-mir-30e</text></g>
<g id="m13"><rect class="p" x="530" y="584" width="80" height="20"/><text class="t" x="570" y="597.5">mmu-mir-23a</text></g>
<g id="m14"><rect class="p" x="659" y="441" width="80" height="20"/><text class="t" x="699" y="454.5">mmu-mir-103-2</text><rect class="p" x="659" y="461" width="80" height="20"/><text class="t" x="699" y="474.5">mmu-mir-103-1</text><rect class="p" x="659" y="481" width="80" height="20"/><text class="t" x="699" y="494.5">mmu-mir-195-1</text><rect class="p" x="659" y="501" width="80" height="20"/><text class="t" x="699" y="514.5">mmu-mir-15b</text></g>
<g id="m15"><rect class="p" x="644" y="536" width="80" height="20"/><text class="t" x="684" y="549.5">mmu-mir-27b</text><rect class="p" x="644" y="556" width="80" height="20"/><text class="t" x="684" y="569.5">mmu-mir-125b-1</text><rect class="p" x="644" y="576" width="80" height="20"/><text class="t" x="684" y="589.5">mmu-mir-125b-2</text></g>
<g id="m16"><rect class="p" x="961" y="433" width="80" height="20"/><text class="t" x="1001" y="446.5">mmu-mir-195</text><rect class="p" x="961" y="453" width="80" height="20"/><text class="t" x="1001" y="466.5">mmu-mir-15b</text></g>
<g id="m17"><rect class="p" x="978" y="491" width="80" height="20"/><text class="t" x="1018" y="504.5">mmu-mir-140</text></g>
<g id="m18"><rect class="p" x="947.5" y="607" width="80" height="20"/><text class="t" x="987.5" y="620.5">mmu-mir-27b</text><rect class="p" x="1028" y="607" width="80" height="20"/><text class="t" x="1068" y="620.5">mmu-mir-195</text><rect class="p" x="1028" y="627" width="80" height="20"/><text class="t" x="1068" y="640.5">mmu-mir-15b</text><rect class="p" x="1107.5" y="607" width="80" height="20"/><text class="t" x="1147.5" y="620.5">mmu-mir-199a-1</text><rect class="p" x="1107.5" y="627" width="80" height="20"/><text class="t" x="1147.5" y="640.5">mmu-mir-199a-2</text></g>
<g id="m19"><rect class="p" x="1186" y="394" width="80" height="20"/><text class="t" x="1226" y="407.5">mmu-mir-195</text><rect class="p" x="1186" y="414" width="80" height="20"/><text class="t" x="1226" y="427.5">mmu-mir-15b</text></g>
<g id="m20"><rect class="p" x="1548" y="383" width="80" height="20"/><text class="t" x="1588" y="396.5">mmu-mir-21</text></g>
<g id="m21"><rect class="p" x="1569" y="452" width="80" height="20"/><text class="t" x="1609" y="465.5">mmu-mir-27b</text><rect class="p" x="1569" y="472" width="80" height="20"/><text class="t" x="1609" y="485.5">mmu-mir-125b-1</text><rect class="p" x="1569" y="492" width="80" height="20"/><text class="t" x="1609" y="505.5">mmu-mir-125b-2</text><rect class="p" x="1569" y="512" width="80" height="20"/><text class="t" x="1609" y="525.5">mmu-mir-185</text></g>
<g id="m22"><rect class="p" x="1777.5" y="72" width="80" height="20"/><text class="t" x="1817.5" y="85.5">mmu-mir-27b</text><rect class="p" x="1777.5" y="92" width="80" height="20"/><text class="t" x="1817.5" y="105.5">mmu-mir-30e</text><rect class="p" x="1857.5" y="72" width="80" height="20"/><text class="t" x="1897.5" y="85.5">mmu-mir-199a-1</text><rect class="p" x="1857.5" y="92" width="80" height="20"/><text class="t" x="1897.5" y="105.5">mmu-mir-199a-2</text></g>
<g id="m23"><rect class="p" x="1948" y="57" width="80" height="20"/><text class="t" x="1988" y="70.5">mmu-mir-15b</text><rect class="p" x="1948" y="77" width="80" height="20"/><text class="t" x="1988" y="90.5">mmu-mir-130b</text><rect class="p" x="2028" y="57" width="80" height="20"/><text class="t" x="2068" y="70.5">mmu-mir-21</text><rect class="p" x="2028" y="77" width="80" height="20"/><text class="t" x="2068" y="90.5">mmu-mir-195</text></g>
<g id="m24"><rect class="p" x="1656" y="252" width="80" height="20"/><text class="t" x="1696" y="265.5">mmu-mir-23a</text><rect class="p" x="1656" y="272" width="80" height="20"/><text class="t" x="1696" y="285.5">mmu-mir-27b</text></g>
<g id="m25"><rect class="p" x="2034" y="171" width="80" height="20"/><text class="t" x="2074" y="184.5">mmu-mir-30e</text></g>
<g id="m26"><rect class="p" x="1925" y="352" width="80" height="20"/><text class="t" x="1965" y="365.5">mmu-mir-130b</text></g>
<g id="m27"><rect class="p" x="1897" y="396" width="80" height="20"/><text class="t" x="1937" y="409.5">mmu-let-7b</text></g>
<g id="m28"><rect class="p" x="1707.5" y="490" width="80" height="20"/><text class="t" x="1747.5" y="503.5">mmu-mir-199a-1</text><rect class="p" x="1707.5" y="510" width="80" height="20"/><text class="t" x="1747.5" y="523.5">mmu-mir-199a-2</text></g>
<g id="m29"><rect class="p" x="1959" y="428" width="80" height="20"/><text class="t" x="1999" y="441.5">mmu-mir-195</text><rect class="p" x="1959" y="448" width="80" height="20"/><text class="t" x="1999" y="461.5">mmu-mir-15b</text><rect class="p" x="2040" y="428" width="80" height="20"/><text class="t" x="2080" y="441.5">mmu-mir-199a-1</text><rect class="p" x="2040" y="448" width="80" height="20"/><text class="t" x="2080" y="461.5">mmu-mir-199a-2</text></g>
<g id="m30"><rect class="p" x="1957.5" y="481" width="80" height="20"/><text class="t" x="1997.5" y="494.5">mmu-mir-199a-1</text><rect class="p" x="1957.5" y="501" width="80" height="20"/><text class="t" x="1997.5" y="514.5">mmu-mir-199a-2</text></g>
<g id="m31"><rect class="p" x="2192.5" y="172" width="80" height="20"/><text class="t" x="2232.5" y="185.5">mmu-mir-133b</text><rect class="p" x="2272.5" y="172" width="80" height="20"/><text class="t" x="2312.5" y="185.5">mmu-mir-133a-1</text><rect class="p" x="2353" y="172" width="80" height="20"/><text class="t" x="2393" y="185.5">mmu-mir-133a-2</text></g>
<g id="m32"><rect class="p" x="2219" y="203" width="80" height="20"/><text class="t" x="2259" y="216.5">mmu-mir-27b</text></g>
<g id="m33"><rect class="p" x="2169" y="236" width="80" height="20"/><text class="t" x="2209" y="249.5">mmu-mir-23a</text></g>
<g id="m34"><rect class="p" x="2218" y="280" width="80" height="20"/><text class="t" x="2258" y="293.5">mmu-mir-23a</text></g>
<g id="m35"><rect class="p" x="2400" y="309" width="80" height="20"/><text class="t" x="2440" y="322.5">mmu-mir-199a-1</text><rect class="p" x="2400" y="329" width="80" height="20"/><text class="t" x="2440" y="342.5">mmu-mir-199a-2</text></g>
<g id="m36"><rect class="p" x="2173" y="383" width="80" height="20"/><text class="t" x="2213" y="396.5">mmu-mir-15b</text><rect class="p" x="2173" y="403" width="80" height="20"/><text class="t" x="2213" y="416.5">mmu-mir-195</text></g>
<g id="m37"><rect class="p" x="2594" y="219" width="80" height="20"/><text class="t" x="2634" y="232.5">mmu-mir-125b-1</text><rect class="p" x="2594" y="239" width="80" height="20"/><text class="t" x="2634" y="252.5">mmu-mir-125b-2</text></g>
<g id="m38"><rect class="p" x="2212" y="494" width="80" height="20"/><text class="t" x="2252" y="507.5">mmu-let-7b</text></g>
<g id="m39"><rect class="p" x="2412" y="526" width="80" height="20"/><text class="t" x="2452" y="539.5">mmu-mir-195</text><rect class="p" x="2412" y="546" width="80" height="20"/><text class="t" x="2452" y="559.5">mmu-mir-15b</text></g>
<g id="m40"><rect class="p" x="2588.5" y="467" width="80" height="20"/><text class="t" x="2628.5" y="480.5">mmu-mir-133b</text><rect class="p" x="2588.5" y="487" width="80" height="20"/><text class="t" x="2628.5" y="500.5">mmu-mir-133a-2</text><rect class="p" x="2588.5" y="507" width="80" height="20"/><text class="t" x="2628.5" y="520.5">mmu-mir-133a-1</text><rect class="p" x="2588.5" y="527" width="80" height="20"/><text class="t" x="2628.5" y="540.5">mmu-let-7b</text></g>
<g id="m41"><rect class="p" x="2768.5" y="390" width="80" height="20"/><text class="t" x="2808.5" y="403.5">mmu-mir-140</text></g>
<g id="m42"><rect class="p" x="2725" y="182" width="80" height="20"/><text class="t" x="2765" y="195.5">mmu-mir-195</text><rect class="p" x="2725" y="202" width="80" height="20"/><text class="t" x="2765" y="215.5">mmu-mir-15b</text><rect class="p" x="2725" y="222" width="80" height="20"/><text class="t" x="2765" y="235.5">mmu-mir-130b</text><rect class="p" x="2725" y="242" width="80" height="20"/><text class="t" x="2765" y="255.5">mmu-mir-27b</text></g>
<g id="m43"><rect class="p" x="3046" y="174" width="80" height="20"/><text class="t" x="3086" y="187.5">mmu-mir-23a</text></g>
<g id="m44"><rect class="p" x="3188" y="174" width="80" height="20"/><text class="t" x="3228" y="187.5">mmu-mir-208a</text><rect class="p" x="3188" y="194" width="80" height="20"/><text class="t" x="3228" y="207.5">mmu-mir-195</text><rect class="p" x="3188" y="214" width="80" height="20"/><text class="t" x="3228" y="227.5">mmu-mir-15b</text><rect class="p" x="3188" y="234" width="80" height="20"/><text class="t" x="3228" y="247.5">mmu-mir-30e</text><rect class="p" x="3188" y="254" width="80" height="20"/><text class="t" x="3228" y="267.5">mmu-mir-27b</text><rect class="p" x="3188" y="274" width="80" height="20"/><text class="t" x="3228" y="287.5">mmu-mir-21</text></g>
<g id="m45"><rect class="p" x="3178" y="314" width="80" height="20"/><text class="t" x="3218" y="327.5">mmu-mir-214</text></g>
<g id="m46"><rect class="p" x="2772" y="319" width="80" height="20"/><text class="t" x="2812" y="332.5">mmu-mir-199a-1</text><rect class="p" x="2772" y="339" width="80" height="20"/><text class="t" x="2812" y="352.5">mmu-mir-199a-2</text></g>
<g id="m47"><rect class="p" x="2753" y="512" width="80" height="20"/><text class="t" x="2793" y="525.5">mmu-mir-208a</text><rect class="p" x="2753" y="532" width="80" height="20"/><text class="t" x="2793" y="545.5">mmu-mir-195</text><rect class="p" x="2753" y="552" width="80" height="20"/><text class="t" x="2793" y="565.5">mmu-mir-15b</text></g>
<g id="m48"><rect class="p" x="3165.5" y="542" width="80" height="20"/><text class="t" x="3205.5" y="555.5">mmu-mir-125b-1</text><rect class="p" x="3165.5" y="562" width="80" height="20"/><text class="t" x="3205.5" y="575.5">mmu-mir-125b-2</text><rect class="p" x="3165.5" y="582" width="80" height="20"/><text class="t" x="3205.5" y="595.5">mmu-mir-195</text><rect class="p" x="3165.5" y="602" width="80" height="20"/><text class="t" x="3205.5" y="615.5">mmu-mir-15b</text></g>
</g>
</svg>
